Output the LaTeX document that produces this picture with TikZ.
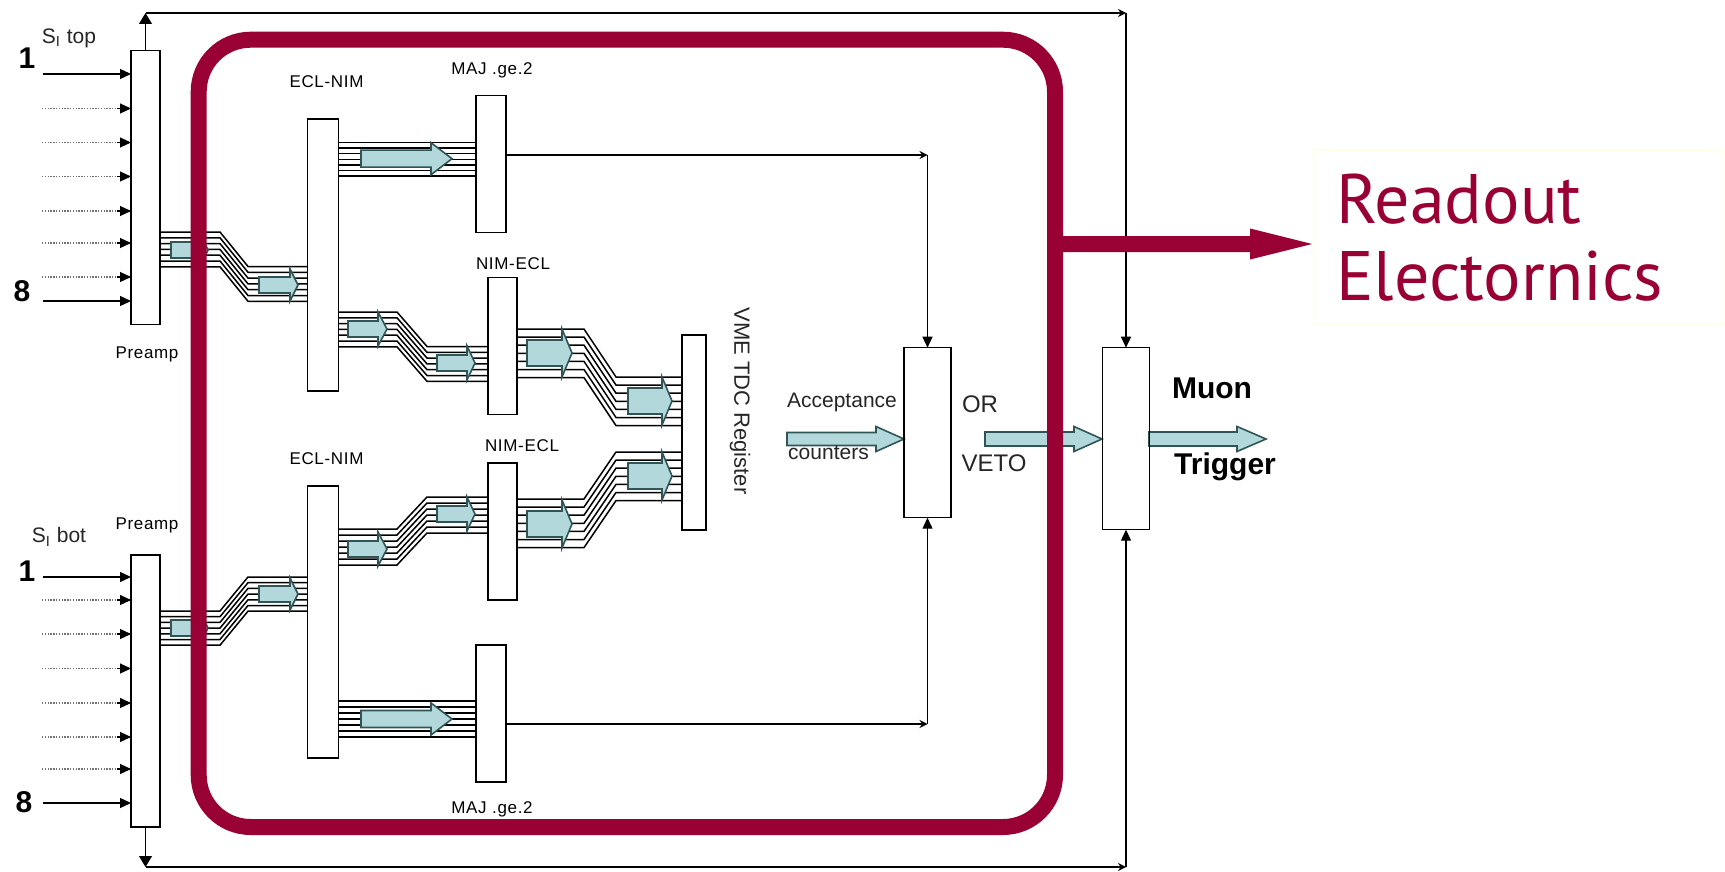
\documentclass[tikz,border=0pt]{standalone}
\usepackage{fontspec}
\setmainfont{Liberation Sans}
\newfontfamily\lblfont[LetterSpace=4]{Liberation Sans}
\newfontfamily\bigfont{PT Sans}
\usetikzlibrary{arrows.meta,calc}
\definecolor{ringred}{HTML}{990033}
\definecolor{teal}{HTML}{B2D8DC}
\definecolor{tealedge}{HTML}{2F5557}
\definecolor{paleyellow}{HTML}{FFFFEA}
\tikzset{
  blockbox/.style={draw=black,fill=white,line width=0.65pt,inner sep=0pt,outer sep=0pt},
  solidin/.style={line width=0.65pt,-{Triangle[length=5.5pt,width=5pt]}},
  tiphead/.style={-{Triangle[length=5.5pt,width=5pt]}},
  link/.style={line width=0.6pt,black},
  buswire/.style={line width=0.75pt,black},
  teala/.style={draw=tealedge,fill=teal,line width=0.8pt,line join=miter},
  smalllbl/.style={inner sep=0pt,font=\lblfont\fontsize{8.5}{10}\selectfont},
  midlbl/.style={inner sep=0pt,font=\fontsize{10.5}{12}\selectfont,text=black!85},
  numlbl/.style={inner sep=0pt,font=\bfseries\fontsize{15}{17}\selectfont},
  boldlbl/.style={inner sep=0pt,font=\bfseries\fontsize{15}{17}\selectfont},
  readlbl/.style={inner sep=0pt,anchor=base west,text=ringred,font=\bigfont\fontsize{35}{40}\selectfont},
}
% left node, right node, y at left, x bend 1, x bend 2, y at right, spacing
\newcommand{\busrun}[7]{%
  \foreach \i in {0,...,6}{%
    \pgfmathsetmacro{\yA}{#3+\i*#7}%
    \pgfmathsetmacro{\yB}{#6+\i*#7}%
    \draw[buswire] (#1.east |- 0,\yA) -- (#4,\yA) -- (#5,\yB) -- (#2.west |- 0,\yB);
  }}
% x start, x head base, x tip, y centre, half body, half wing
\newcommand{\fatarrow}[6]{%
  \draw[teala] (#1,#4-#5) -- (#2,#4-#5) -- (#2,#4-#6) -- (#3,#4) -- (#2,#4+#6) -- (#2,#4+#5) -- (#1,#4+#5) -- cycle;}
\begin{document}
\begin{tikzpicture}[x=0.5pt,y=-0.5pt]
\useasboundingbox (0,0) rectangle (1725,872);
\fill[white] (0,0) rectangle (1725,872);

% blocks (positioned first so that connectors can name them)
\node[blockbox,minimum width=14.5pt,minimum height=137pt] (ptop) at (145.5,187.7) {};
\node[blockbox,minimum width=14.5pt,minimum height=136pt] (pbot) at (145.5,691) {};
\node[blockbox,minimum width=15.5pt,minimum height=136pt] (ecla) at (323,255) {};
\node[blockbox,minimum width=15.5pt,minimum height=136pt] (eclb) at (323,622) {};
\node[blockbox,minimum width=15pt,minimum height=68.5pt] (maja) at (491,164.2) {};
\node[blockbox,minimum width=15pt,minimum height=68.5pt] (majb) at (491,713.5) {};
\node[blockbox,minimum width=14.5pt,minimum height=68.5pt] (nima) at (502.5,346) {};
\node[blockbox,minimum width=14.5pt,minimum height=68.5pt] (nimb) at (502.5,531.5) {};
\node[blockbox,minimum width=12pt,minimum height=97.5pt] (vme) at (694,432.5) {};
\node[blockbox,minimum width=23.5pt,minimum height=85pt] (orb) at (927.5,432.7) {};
\node[blockbox,minimum width=23.2pt,minimum height=91pt] (veto) at (1126,438.7) {};

% inputs
\foreach \y in {74,301}{
  \coordinate (ia\y) at (43,\y);
  \draw[solidin] (ia\y) -- (ptop.west |- ia\y);
}
\foreach \y in {108.5,142.5,176.5,211,243,277}{
  \coordinate (da) at (42,\y);
  \draw[line width=0.7pt,black!55,dash pattern=on 0.7pt off 0.7pt] (da) -- (ptop.west |- da);
  \draw[line width=0.6pt,tiphead] ($(ptop.west |- da)+(-14,0)$) -- (ptop.west |- da);
}
\foreach \y in {577,803}{
  \coordinate (ib\y) at (43,\y);
  \draw[solidin] (ib\y) -- (pbot.west |- ib\y);
}
\foreach \y in {600,634,668.5,703,737,769}{
  \coordinate (db) at (42,\y);
  \draw[line width=0.7pt,black!55,dash pattern=on 0.7pt off 0.7pt] (db) -- (pbot.west |- db);
  \draw[line width=0.6pt,tiphead] ($(pbot.west |- db)+(-14,0)$) -- (pbot.west |- db);
}

% outer bus lines
\coordinate (tl) at (ptop.north |- 0,13);
\coordinate (tr) at (veto.north |- 0,13);
\coordinate (bl) at (pbot.south |- 0,867);
\coordinate (br) at (veto.south |- 0,867);
\draw[link,-{Triangle[length=5.5pt,width=6.5pt]}] (ptop.north) -- (tl);
\draw[link,-{Stealth[length=4pt,width=4pt]}] (tl) -- (tr);
\draw[link,tiphead] (tr) -- (veto.north);
\draw[link,-{Triangle[length=5.5pt,width=6.5pt]}] (pbot.south) -- (bl);
\draw[link,-{Stealth[length=4pt,width=4pt]}] (bl) -- (br);
\draw[link,tiphead] (br) -- (veto.south);

% MAJ outputs
\coordinate (ma) at (orb.north |- 0,155);
\coordinate (mb) at (orb.south |- 0,724);
\draw[link,-{Stealth[length=4pt,width=4pt]}] (maja.east |- ma) -- (ma);
\draw[link,tiphead] (ma) -- (orb.north);
\draw[link,-{Stealth[length=4pt,width=4pt]}] (majb.east |- mb) -- (mb);
\draw[link,tiphead] (mb) -- (orb.south);

% wire bundles
\busrun{ptop}{ecla}{232}{220}{248}{266.5}{5.8}
\busrun{ecla}{maja}{142.5}{400}{410}{142.5}{5.6}
\busrun{ecla}{nima}{312}{397}{427}{346.5}{5.8}
\busrun{nima}{vme}{329}{584}{616}{377}{8.1}
\busrun{nimb}{vme}{499}{584}{616}{452}{8.1}
\busrun{eclb}{nimb}{529}{397}{427}{497}{6}
\busrun{pbot}{eclb}{611}{220}{248}{577}{5.7}
\busrun{eclb}{majb}{701}{400}{410}{701}{6}

% bundle arrows
\fatarrow{171}{200}{208}{250}{8}{16}
\fatarrow{259}{290}{298}{285}{8}{16}
\fatarrow{361}{431}{452}{158.7}{8.5}{16}
\fatarrow{348}{378}{387}{329}{8}{17}
\fatarrow{437}{467}{475}{363}{8}{17}
\fatarrow{527}{562}{572}{353}{13}{24}
\fatarrow{628}{662}{672}{401}{13}{24}
\fatarrow{527}{562}{572}{524}{13}{24}
\fatarrow{628}{662}{672}{476}{13}{24}
\fatarrow{348}{378}{387}{549}{8}{17}
\fatarrow{437}{467}{475}{514}{8}{17}
\fatarrow{171}{200}{208}{628}{8}{16}
\fatarrow{259}{290}{298}{594}{8}{16}
\fatarrow{361}{431}{452}{719}{8.5}{16}

% flow arrows
\fatarrow{787}{876}{904}{439}{6.5}{12.5}
\fatarrow{985}{1074}{1102}{439}{7}{12.5}
\fatarrow{1149}{1237}{1266}{439}{7}{12.5}

% blocks redrawn on top of the wire ends
\foreach \n in {ptop,pbot,ecla,eclb,maja,majb,nima,nimb,vme,orb,veto}{
  \draw[line width=0.65pt] (\n.south west) rectangle (\n.north east);
}

% labels
\node[numlbl] (n1a) at (27,58) {1};
\node[numlbl] (n8a) at (22,291) {8};
\node[numlbl] (n1b) at (27,571) {1};
\node[numlbl] (n8b) at (24,802) {8};
\node[inner sep=0pt,font=\fontsize{10.5}{12}\selectfont,text=black!85] (stop) at (69,38) {S\textsubscript{I} top};
\node[inner sep=0pt,font=\fontsize{10.5}{12}\selectfont,text=black!85] (sbot) at (59,537) {S\textsubscript{I} bot};
\node[smalllbl] (pa) at (147,354) {Preamp};
\node[smalllbl] (pb) at (147,525) {Preamp};
\node[smalllbl] (ea) at (326.5,82) {ECL-NIM};
\node[smalllbl] (eb) at (326.5,459) {ECL-NIM};
\node[smalllbl] (ja) at (492,70) {MAJ .ge.2};
\node[smalllbl] (jb) at (492,809) {MAJ .ge.2};
\node[smalllbl] (na) at (513,264) {NIM-ECL};
\node[smalllbl] (nb) at (522,446) {NIM-ECL};
\node[midlbl,rotate=-90,font=\fontsize{11}{12}\selectfont] (vl) at (740,401) {VME TDC Register};
\node[midlbl] (acc) at (842,402) {Acceptance};
\node[midlbl] (cnt) at (828.5,453) {counters};
\node[inner sep=0pt,font=\fontsize{12}{14}\selectfont,text=black!85] (orl) at (980,404) {OR};
\node[inner sep=0pt,font=\fontsize{12}{14}\selectfont,text=black!85] (vtl) at (994,463) {VETO};
\node[boldlbl] (mu) at (1212,388) {Muon};
\node[boldlbl] (tg) at (1225,467) {Trigger};

% highlight ring and callout
\draw[ringred,line width=8pt,rounded corners=26pt] (198.7,39.7) rectangle (1055,827);
\node[draw=paleyellow,fill=white,line width=0.6pt,minimum width=205pt,minimum height=87pt,inner sep=0pt,outer sep=0pt] (box) at (1520,237) {};
\coordinate (rs) at (1063,244);
\fill[ringred] (rs) ++(0,-8) -- (1250,236) -- (1250,228.5) -- ($(box.west |- rs)+(-3,0)$) -- (1250,259.5) -- (1250,252) -- (1063,252) -- cycle;
\node[readlbl] (r1) at (1336,223) {Readout};
\node[readlbl] (r2) at (1336,300) {Electornics};
\end{tikzpicture}
\end{document}
